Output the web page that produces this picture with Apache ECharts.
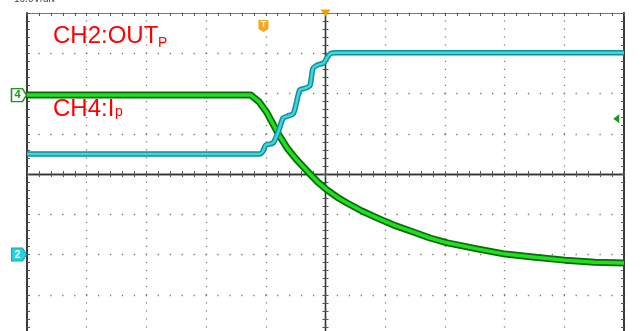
<!DOCTYPE html>
<html><head><meta charset="utf-8">
<script src="https://cdn.jsdelivr.net/npm/echarts@6/dist/echarts.min.js"></script>
<style>html,body{margin:0;padding:0;background:#fff;overflow:hidden}#c{width:642px;height:331px}</style>
</head><body><div id="c"></div>
<script>
// CH4 (green, current I_P) trace, in divisions (x: -5..5, y: -4..4)
const ch4X = [-5, -1.25, -1.11, -0.98, -0.86, -0.76, -0.63, -0.48, -0.26, -0.13, 0.03, 0.19, 0.36, 0.61, 0.91, 1.18, 1.47, 1.75, 2.04, 2.54, 3.01, 3.51, 4.01, 4.51, 5.0];
const ch4Y = [1.96, 1.96, 1.79, 1.52, 1.19, 0.92, 0.62, 0.35, 0.0, -0.20, -0.40, -0.57, -0.72, -0.92, -1.12, -1.29, -1.44, -1.59, -1.71, -1.86, -1.99, -2.07, -2.14, -2.19, -2.21];
// CH2 (cyan, OUT_P) trace
const ch2X = [-5, -1.10, -1.05, -1.00, -0.88, -0.79, -0.71, -0.63, -0.54, -0.49, -0.43, -0.34, -0.26, -0.21, -0.13, -0.03, 0.03, 0.09, 0.18, 5];
const ch2Y = [0.50, 0.50, 0.56, 0.72, 0.77, 1.05, 1.39, 1.44, 1.50, 1.75, 2.09, 2.13, 2.20, 2.62, 2.71, 2.76, 2.90, 3.00, 3.01, 3.01];
// labels
const ch2Label = 'CH2:OUT', ch2Sub = 'P';
const ch4Label = 'CH4:I', ch4Sub = 'p';
const ch4Marker = '4', ch2Marker = '2', trigMarker = 'T';
const ch4MarkerLevel = 1.96, ch2MarkerLevel = -2, trigLevel = 1.37, trigTime = -1.04;

const ch4Data = ch4X.map((x, i) => [x, ch4Y[i]]);
const ch2Data = ch2X.map((x, i) => [x, ch2Y[i]]);

const XMIN = -5, XMAX = 5, YMIN = -4, YMAX = 4;
const tickStyle = {color: '#555', width: 1};
function xAx(position, onZero, inside, line, split) {
  return {
    type: 'value', min: XMIN, max: XMAX, interval: 1, position: position,
    axisLine: {show: true, onZero: onZero, onZeroAxisIndex: 0, lineStyle: line},
    axisTick: {show: true, inside: inside, length: 3, lineStyle: tickStyle},
    minorTick: {show: true, splitNumber: 5, length: 3, lineStyle: tickStyle},
    axisLabel: {show: false},
    splitLine: split ? {show: true, lineStyle: {color: '#7a7a7a', width: 1.3, type: [1.3, 6.75], dashOffset: 0.65}} : {show: false},
    minorSplitLine: {show: false}
  };
}
function yAx(position, onZero, inside, line, split) {
  return {
    type: 'value', min: YMIN, max: YMAX, interval: 1, position: position,
    axisLine: {show: true, onZero: onZero, onZeroAxisIndex: 0, lineStyle: line},
    axisTick: {show: true, inside: inside, length: 3, lineStyle: tickStyle},
    minorTick: {show: true, splitNumber: 5, length: 3, lineStyle: tickStyle},
    axisLabel: {show: false},
    splitLine: split ? {show: true, lineStyle: {color: '#7a7a7a', width: 1.3, type: [1.3, 10.64], dashOffset: 0.65}} : {show: false},
    minorSplitLine: {show: false}
  };
}
const center = {color: '#333', width: 1.3};
const border = {color: '#3a3a3a', width: 2};
const topBorder = {color: '#777', width: 1};

const chart = echarts.init(document.getElementById('c'), null, {renderer: 'canvas'});
chart.setOption({
  animation: false,
  backgroundColor: '#fff',
  grid: {left: 27, right: 18, top: 13, bottom: -4, containLabel: false, outerBoundsMode: 'none'},
  xAxis: [
    xAx('bottom', true, false, center, true),
    xAx('top', true, false, center, false),
    xAx('top', false, true, topBorder, false)
  ],
  yAxis: [
    yAx('left', true, false, center, true),
    yAx('right', true, false, center, false),
    yAx('left', false, true, border, false),
    yAx('right', false, true, border, false)
  ],
  graphic: [
    {type: 'text', left: 14, top: -6, style: {text: '10.0V/div', font: '10px "Liberation Sans"', fill: '#444'}},
    {type: 'text', left: 53, top: 24, style: {text: ch2Label, font: '24px "Liberation Sans"', fill: '#ff0000'}, z: 10},
    {type: 'text', left: 158, top: 36, style: {text: ch2Sub, font: '14px "Liberation Sans"', fill: '#ff0000'}, z: 10},
    {type: 'text', left: 53, top: 97, style: {text: ch4Label, font: '24px "Liberation Sans"', fill: '#ff0000'}, z: 10},
    {type: 'text', left: 115, top: 105, style: {text: ch4Sub, font: '14px "Liberation Sans"', fill: '#ff0000'}, z: 10}
  ],
  series: [
    {type: 'line', data: ch4Data, showSymbol: false, symbol: 'none', smooth: false, clip: true,
     lineStyle: {color: '#0b6a0b', width: 7, join: 'round'}, z: 2},
    {type: 'line', data: ch4Data, showSymbol: false, symbol: 'none', smooth: false, clip: true,
     lineStyle: {color: '#1fe01f', width: 3.5, join: 'round'}, z: 3},
    {type: 'line', data: ch2Data, showSymbol: false, symbol: 'none', smooth: 0.25, clip: true,
     lineStyle: {color: '#0f8f99', width: 5.5}, z: 4},
    {type: 'line', data: ch2Data, showSymbol: false, symbol: 'none', smooth: 0.25, clip: true,
     lineStyle: {color: '#3fd6de', width: 2.5}, z: 5,
     markPoint: {
       silent: true,
       data: [
         {coord: [XMIN, ch4MarkerLevel], symbol: 'path://M0,0L11,0L15,6.5L11,13L0,13Z', symbolSize: [15, 13], symbolOffset: [-8, 0],
          itemStyle: {color: '#ffffff', borderColor: '#1a9a1a', borderWidth: 1.5},
          label: {show: true, position: 'inside', formatter: ch4Marker, color: '#1a9a1a', fontSize: 11, fontWeight: 'bold', offset: [-1.5, 0]}},
         {coord: [XMIN, ch2MarkerLevel], symbol: 'path://M0,0L11,0L15,6.5L11,13L0,13Z', symbolSize: [15, 13], symbolOffset: [-8, 0],
          itemStyle: {color: '#22d3e6', borderColor: '#1aa3b0', borderWidth: 1},
          label: {show: true, position: 'inside', formatter: ch2Marker, color: '#ffffff', fontSize: 11, fontWeight: 'bold', offset: [-1.5, 0]}},
         {coord: [trigTime, 3.68], symbol: 'path://M0,0L10,0L10,9L5,12L0,9Z', symbolSize: [10, 12],
          itemStyle: {color: '#f5a623'},
          label: {show: true, position: 'inside', formatter: trigMarker, color: '#ffffff', fontSize: 9, fontWeight: 'bold', offset: [0, -1]}},
         {coord: [0, YMAX], symbol: 'triangle', symbolRotate: 180, symbolSize: [10, 7], symbolOffset: [0, 0],
          itemStyle: {color: '#f5a000'}, label: {show: false}},
         {coord: [4.87, trigLevel], symbol: 'triangle', symbolRotate: 90, symbolSize: [9, 6],
          itemStyle: {color: '#1a9a1a'}, label: {show: false}}
       ]
     }}
  ]
});
</script>
</body></html>
